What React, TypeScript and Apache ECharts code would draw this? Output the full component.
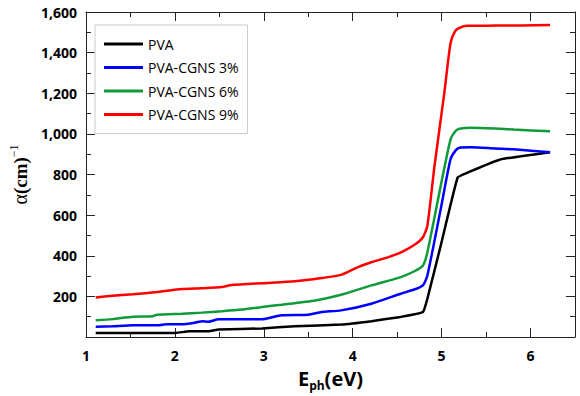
import React, { useEffect, useRef } from "react";
import * as echarts from "echarts";

const seriesNames = ["PVA", "PVA-CGNS 3%", "PVA-CGNS 6%", "PVA-CGNS 9%"];
const seriesColors = ["#000000", "#0000FF", "#109A3A", "#FF0000"];

const pvaX = [1.11, 1.5, 2.01, 2.16, 2.38, 2.49, 2.98, 3.35, 3.87, 4.21, 4.54, 4.79, 4.84, 4.99, 5.18, 5.29, 5.66, 6.22];
const pvaY = [20, 20, 20, 28, 28, 37, 42, 53, 61, 78, 99, 123, 189, 450, 785, 809, 874, 910];

const c3X = [1.11, 1.3, 1.53, 1.82, 1.9, 2.08, 2.23, 2.31, 2.38, 2.49, 2.75, 2.98, 3.2, 3.5, 3.65, 3.87, 4.21, 4.54, 4.7, 4.79, 4.84, 4.99, 5.1, 5.16, 5.2, 5.33, 5.6, 5.81, 6.22];
const c3Y = [50, 53, 58, 58, 63, 63, 71, 78, 75, 87, 87, 87, 107, 110, 123, 131, 164, 213, 235, 254, 303, 630, 875, 920, 932, 934, 928, 924, 910];

const c6X = [1.11, 1.3, 1.53, 1.75, 1.8, 2.08, 2.3, 2.53, 2.75, 2.98, 3.2, 3.58, 3.87, 4.21, 4.54, 4.7, 4.79, 4.84, 4.99, 5.1, 5.16, 5.2, 5.33, 5.6, 5.81, 6.22];
const c6Y = [82, 88, 100, 102, 110, 115, 120, 127, 135, 148, 159, 180, 208, 254, 295, 325, 352, 417, 744, 972, 1015, 1025, 1030, 1026, 1021, 1013];

const c9X = [1.11, 1.3, 1.53, 1.8, 2.08, 2.3, 2.53, 2.64, 2.98, 3.35, 3.65, 3.87, 4.06, 4.21, 4.4, 4.55, 4.7, 4.79, 4.84, 4.92, 5.03, 5.1, 5.15, 5.2, 5.29, 5.6, 5.9, 6.22];
const c9Y = [195, 203, 210, 222, 236, 240, 246, 256, 265, 274, 290, 306, 344, 368, 393, 418, 455, 491, 548, 842, 1201, 1446, 1505, 1522, 1532, 1533, 1534, 1536];

const xMin = 1;
const xMax = 6.5;
const yMin = 0;
const yMax = 1600;

const allX = [pvaX, c3X, c6X, c9X];
const allY = [pvaY, c3Y, c6Y, c9Y];

export default function App() {
  const ref = useRef<HTMLDivElement>(null);
  useEffect(() => {
    if (!ref.current) return;
    const chart = echarts.init(ref.current, null, { renderer: "svg" });
    const axisLine = { show: true, lineStyle: { color: "#222", width: 1 } };
    const labelFont = { fontFamily: "Open Sans", fontWeight: "bold" as const, fontSize: 14, color: "#000" };
    const baseX = (pos: string, showLabel: boolean, interval: number, len: number, extra: any = {}) => ({
      type: "value",
      position: pos,
      min: xMin,
      max: xMax,
      interval,
      axisLine: extra.noLine ? { show: false } : axisLine,
      axisTick: { show: true, inside: true, length: len, lineStyle: { color: "#222" } },
      axisLabel: showLabel
        ? {
            ...labelFont,
            margin: 11,
            formatter: (v: number) => (Number.isInteger(v) ? String(v) : ""),
          }
        : { show: false },
      splitLine: { show: false },
    });
    const baseY = (pos: string, showLabel: boolean) => ({
      type: "value",
      position: pos,
      min: yMin,
      max: yMax,
      interval: 200,
      axisLine,
      axisTick: { show: true, inside: true, length: 9, lineStyle: { color: "#222" } },
      minorTick: { show: true, splitNumber: 2, length: 5, lineStyle: { color: "#222" } },
      axisLabel: showLabel
        ? {
            ...labelFont,
            margin: 9,
            formatter: (v: number) => (v === 0 ? "" : v.toLocaleString("en-US")),
          }
        : { show: false },
      splitLine: { show: false },
      minorSplitLine: { show: false },
    });

    const xAxes: any[] = [
      {
        ...baseX("bottom", true, 1, 9),
        name: "{a|E}{b|ph}{a|(eV)}",
        nameLocation: "middle",
        nameGap: 28,
        nameTextStyle: {
          rich: {
            a: { fontFamily: "Open Sans", fontWeight: "bold", fontSize: 20, color: "#000", lineHeight: 26 },
            b: { fontFamily: "Open Sans", fontWeight: "bold", fontSize: 12, color: "#000", verticalAlign: "bottom", lineHeight: 20 },
          },
        },
      },
      baseX("bottom", false, 0.5, 5, { noLine: true }),
      baseX("top", false, 1, 9),
      baseX("top", false, 0.5, 5, { noLine: true }),
    ];
    const yAxes: any[] = [
      {
        ...baseY("left", true),
        name: "{a|α}{b|(cm)}{c|−1}",
        nameLocation: "middle",
        nameRotate: 90,
        nameGap: 44,
        nameTextStyle: {
          rich: {
            a: { fontFamily: "Liberation Serif", fontSize: 20, color: "#000", lineHeight: 24 },
            b: { fontFamily: "Liberation Serif", fontWeight: "bold", fontSize: 19, color: "#000", lineHeight: 24 },
            c: { fontFamily: "Liberation Serif", fontSize: 12, color: "#000", verticalAlign: "top", lineHeight: 14 },
          },
        },
      },
      baseY("right", false),
    ];

    const series = seriesNames.map((name, i) => ({
      name,
      type: "line",
      xAxisIndex: 0,
      yAxisIndex: 0,
      data: allX[i].map((x, j) => [x, allY[i][j]]),
      symbol: "none",
      smooth: i === 0 ? 0.1 : 0.2,
      lineStyle: { color: seriesColors[i], width: 2.5 },
      itemStyle: { color: seriesColors[i] },
      z: 2 + i,
    }));

    chart.setOption({
      animation: false,
      backgroundColor: "#fff",
      grid: { left: 83, right: 5, top: 12, bottom: 57, containLabel: false },
      legend: {
        show: true,
        orient: "vertical",
        left: 95,
        top: 25,
        data: seriesNames.map((n) => ({ name: n, icon: "rect" })),
        padding: [12, 9, 12, 9],
        itemWidth: 39,
        itemHeight: 3,
        itemGap: 9.5,
        itemTextGap: 9,
        borderColor: "#cccccc",
        borderWidth: 1,
        backgroundColor: "#fff",
        textStyle: { fontFamily: "Open Sans", fontSize: 14, color: "#000", lineHeight: 14 },
      },
      xAxis: xAxes,
      yAxis: yAxes,
      series,
    });
    return () => chart.dispose();
  }, []);
  return <div ref={ref} style={{ position: "fixed", left: 0, top: 0, width: 580, height: 396 }} />;
}
